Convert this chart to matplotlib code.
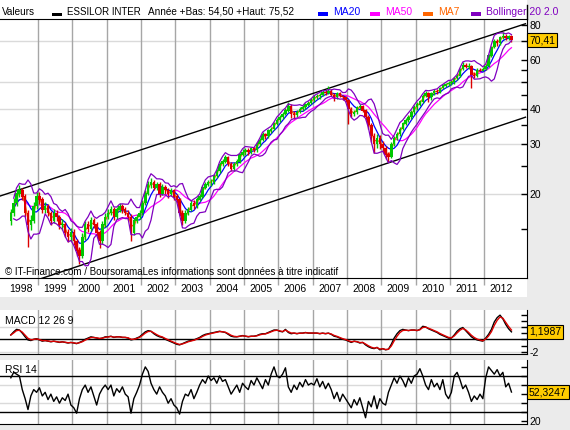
import numpy as np
import pandas as pd
import matplotlib
matplotlib.use('Agg')
import matplotlib.pyplot as plt
from matplotlib.patches import Rectangle
from matplotlib.lines import Line2D
from matplotlib.ticker import FixedLocator, FixedFormatter, NullFormatter

plt.rcParams['font.family'] = ['Liberation Sans', 'DejaVu Sans']

W, H = 570.0, 430.0

# ESSILOR INTER, one bar per month, March 1998 .. October 2012
start_year, start_month = 1998, 3
open_first = 16.0
close = [
    17.0, 18.5, 20.0, 20.5, 19.5, 17.0, 15.5, 16.0, 18.0, 19.5,
    19.0, 17.5, 18.0, 17.0, 16.0, 17.0, 16.5, 15.5, 15.5, 14.5, 14.0, 14.5,
    13.5, 12.5, 12.0, 14.0, 15.5, 15.0, 16.0, 15.5, 14.5, 13.5, 15.5, 16.5,
    17.0, 17.5, 16.5, 17.5, 18.0, 17.5, 17.0, 16.5, 14.5, 16.0, 16.5, 17.0,
    18.5, 20.0, 21.5, 22.0, 21.0, 21.5, 20.0, 21.0, 20.5, 20.0, 20.5, 19.5,
    19.0, 17.0, 16.0, 17.0, 17.5, 18.5, 18.0, 19.0, 19.5, 21.0, 21.5, 22.0,
    22.0, 23.0, 24.0, 25.5, 26.0, 27.0, 25.5, 24.5, 25.5, 26.0, 27.5, 28.0,
    28.5, 28.0, 29.0, 28.5, 30.0, 31.0, 32.5, 32.0, 33.5, 34.0, 35.5, 36.5,
    37.5, 38.5, 39.5, 41.0, 38.5, 38.0, 39.0, 40.0, 40.5, 41.5, 42.0, 43.0,
    44.0, 44.5, 45.0, 46.0, 45.5, 46.5, 45.0, 44.0, 45.5, 44.5, 44.0, 43.0,
    40.0, 38.5, 39.0, 40.5, 41.0, 39.5, 37.5, 35.0, 32.0, 30.0, 31.5, 30.0,
    29.0, 27.5, 27.0, 30.0, 31.5, 32.5, 34.0, 35.5, 36.5, 37.5, 39.0, 40.5,
    41.5, 42.5, 44.5, 45.5, 44.0, 45.5, 46.5, 46.0, 47.5, 48.5, 49.0, 49.5,
    50.0, 51.5, 52.5, 55.5, 57.5, 56.5, 57.0, 53.0, 52.5, 55.0, 54.8, 55.5,
    57.0, 62.0, 66.5, 70.0, 68.5, 72.0, 73.0, 71.5, 72.5, 70.41,
]
high = [
    17.6, 19.2, 20.8, 21.5, 21.0, 19.9, 17.5, 16.8, 18.6, 20.2,
    20.3, 19.4, 18.7, 18.3, 17.3, 17.6, 17.4, 16.8, 16.2, 15.8, 14.9, 15.1,
    14.9, 13.8, 12.9, 14.5, 16.0, 16.0, 16.5, 16.3, 15.8, 14.8, 15.9, 17.0,
    17.6, 18.1, 17.9, 17.9, 18.5, 18.3, 17.9, 17.4, 16.9, 16.4, 16.9, 17.5,
    18.9, 20.6, 22.2, 22.7, 22.4, 22.0, 21.9, 21.6, 21.4, 20.9, 21.0, 20.8,
    19.9, 19.3, 17.4, 17.4, 17.9, 18.9, 18.9, 19.4, 19.9, 21.4, 21.9, 22.4,
    22.6, 23.5, 24.5, 26.0, 26.6, 27.5, 27.3, 25.9, 25.9, 26.5, 27.9, 28.9,
    29.1, 29.0, 29.4, 29.4, 30.5, 31.5, 33.0, 32.9, 34.0, 34.6, 36.0, 37.2,
    38.2, 39.1, 40.3, 42.4, 41.6, 39.2, 39.6, 40.6, 41.2, 42.1, 42.7, 43.8,
    44.7, 45.3, 45.6, 46.6, 46.8, 48.5, 47.0, 45.6, 46.0, 46.0, 45.0, 44.5,
    43.4, 40.8, 39.6, 41.0, 41.8, 41.5, 40.0, 38.2, 35.6, 32.8, 32.5, 32.2,
    30.8, 29.5, 28.2, 30.6, 32.1, 33.0, 34.6, 36.1, 37.1, 38.1, 39.6, 41.2,
    42.2, 43.2, 45.1, 46.2, 46.0, 46.0, 47.1, 47.0, 48.1, 49.1, 49.7, 50.3,
    50.9, 52.2, 53.2, 56.2, 58.6, 58.4, 58.2, 57.5, 54.2, 55.8, 56.0, 56.4,
    57.8, 62.8, 67.2, 71.0, 71.2, 73.0, 75.52, 74.0, 73.6, 73.2,
]
low = [
    15.4, 16.6, 18.1, 19.4, 19.0, 16.5, 12.9, 14.8, 15.7, 17.6,
    18.3, 17.0, 17.1, 16.6, 15.5, 15.7, 16.0, 15.0, 14.8, 14.0, 13.4, 13.6,
    13.1, 12.0, 11.2, 11.8, 13.7, 14.6, 14.7, 15.1, 14.1, 12.8, 13.2, 15.2,
    16.2, 16.7, 16.1, 16.2, 17.2, 17.1, 16.7, 16.1, 13.6, 14.2, 15.7, 16.2,
    16.8, 18.2, 19.7, 21.0, 20.6, 20.6, 19.4, 19.7, 20.0, 19.3, 19.6, 19.0,
    18.5, 16.6, 15.4, 15.7, 16.7, 17.3, 17.6, 17.7, 18.8, 19.3, 20.7, 21.2,
    21.3, 21.7, 22.7, 23.7, 25.1, 25.7, 25.1, 24.0, 24.1, 25.1, 25.7, 27.1,
    27.4, 27.5, 27.6, 28.0, 28.1, 29.6, 30.7, 31.3, 31.6, 32.8, 33.6, 35.1,
    36.1, 37.0, 38.0, 39.0, 37.2, 36.8, 37.5, 38.6, 39.5, 40.0, 41.0, 41.6,
    42.5, 43.4, 43.6, 44.6, 45.0, 45.2, 44.4, 42.6, 43.5, 44.0, 43.2, 42.3,
    35.5, 37.6, 37.8, 38.5, 40.0, 39.0, 36.6, 34.0, 30.5, 27.8, 29.0, 28.8,
    28.2, 26.6, 26.0, 26.8, 29.5, 30.9, 32.0, 33.6, 35.0, 35.9, 37.0, 38.5,
    39.8, 40.9, 42.0, 44.0, 42.5, 43.2, 45.0, 45.2, 45.6, 47.0, 47.9, 48.3,
    48.6, 49.3, 50.6, 52.0, 55.0, 55.8, 55.6, 47.6, 51.5, 52.0, 54.5, 54.5,
    55.0, 56.5, 61.4, 65.8, 67.0, 67.8, 71.0, 70.2, 70.6, 69.5,
]

# MACD 12 26 9 line and RSI 14, one reading per month
macd = [
    0.7, 1.2, 1.6, 1.5, 1.0, 0.4, -0.1, -0.2, 0.0, 0.1,
    -0.1, -0.3, -0.2, -0.3, -0.4, -0.3, -0.4, -0.5, -0.4, -0.5, -0.6, -0.5,
    -0.6, -0.7, -0.5, -0.3, 0.0, 0.2, 0.4, 0.3, 0.2, 0.1, 0.2, 0.4,
    0.4, 0.5, 0.3, 0.4, 0.4, 0.3, 0.3, 0.2, -0.1, 0.0, 0.2, 0.4,
    0.8, 1.2, 1.4, 1.3, 0.9, 0.6, 0.4, 0.3, 0.0, -0.2, -0.4, -0.6,
    -0.8, -0.9, -0.7, -0.5, -0.3, -0.2, -0.1, 0.1, 0.3, 0.6, 0.8, 0.9,
    1.0, 1.1, 1.2, 1.3, 1.2, 1.1, 0.8, 0.5, 0.4, 0.4, 0.5, 0.6,
    0.5, 0.4, 0.5, 0.5, 0.6, 0.8, 0.9, 0.9, 1.1, 1.3, 1.5, 1.5,
    1.3, 1.2, 1.6, 1.1, 0.9, 1.0, 0.9, 1.0, 1.0, 1.1, 1.0, 1.0,
    1.0, 1.0, 0.9, 1.0, 0.9, 1.0, 0.8, 0.5, 0.4, 0.2, 0.0, -0.1,
    -0.3, -0.5, -0.3, -0.4, -0.6, -0.5, -0.9, -1.2, -1.4, -1.5, -1.3, -1.7,
    -1.5, -1.7, -1.6, -0.8, 0.2, 0.9, 1.4, 1.6, 1.5, 1.4, 1.5, 1.5,
    1.4, 1.6, 2.1, 2.0, 1.7, 1.5, 1.3, 1.1, 0.8, 0.6, 0.4, 0.2,
    0.2, 0.7, 1.3, 1.7, 1.9, 1.4, 0.9, 0.4, 0.1, -0.1, -0.2, -0.3,
    0.2, 0.8, 1.6, 2.8, 3.5, 3.9, 3.3, 2.4, 1.7, 1.1987,
]
rsi = [
    68, 74, 72, 70, 55, 45, 33, 48, 55, 52,
    57, 48, 52, 44, 50, 42, 47, 40, 46, 43, 50, 38,
    35, 29, 45, 55, 60, 52, 58, 48, 38, 50, 56, 60,
    55, 60, 48, 56, 52, 58, 50, 47, 29, 45, 52, 60,
    72, 80, 75, 62, 55, 50, 58, 52, 48, 40, 45, 38,
    35, 28, 42, 50, 48, 55, 45, 52, 60, 66, 62, 70,
    65, 68, 62, 70, 64, 66, 58, 50, 55, 60, 52, 62,
    58, 55, 65, 60, 68, 62, 56, 66, 60, 72, 80, 70,
    68, 72, 79, 58, 52, 60, 55, 63, 58, 66, 60, 62,
    60, 67, 58, 64, 56, 62, 55, 45, 52, 42, 50, 45,
    40, 35, 44, 38, 46, 35, 24, 42, 36, 48, 34, 45,
    40, 38, 52, 60, 68, 62, 70, 65, 58, 68, 62, 70,
    72, 78, 70, 60, 55, 66, 58, 62, 55, 66, 50, 45,
    52, 70, 74, 66, 56, 60, 52, 42, 48, 44, 50, 45,
    68, 80, 76, 72, 77, 70, 74, 58, 62, 52.3247,
]

# trend channel (year, price)
channel_x = [1997.9, 2013.2]
channel_top = [19.6, 80.5]
channel_bottom = [8.9, 37.4]

years = list(range(1998, 2013))
price_ticks = [20, 30, 40, 60, 80]
price_minor = [15, 25, 35, 45, 50, 55, 70]
price_grid = [20, 30, 40, 50, 70]

# indicator settings are in weeks, the bars here are months
ma_weeks = [50, 20, 7]
ma_colors = ['#ff00ff', '#0000ff', '#ff6600']
boll_weeks, boll_k = 20, 2.0
macd_signal_weeks = 9

GREEN, RED = '#00c800', '#dd0000'
PURPLE = '#8000c0'
VGRID, HGRID = '#a6a6a6', '#dadada'
XMIN, XMAX = 1997.893, 2013.23


def box(x0, y0, x1, y1):
    # pixel box of the picture -> figure fraction rect
    return [x0 / W, 1 - y1 / H, (x1 - x0) / W, (y1 - y0) / H]


def months(weeks):
    return max(1, int(round(weeks * 12 / 52)))


c = np.array(close)
t = start_year + (start_month - 1 + np.arange(len(c)) + 0.5) / 12
o = np.r_[open_first, c[:-1]]
s = pd.Series(c)

fig = plt.figure(figsize=(W / 100, H / 100), dpi=100, facecolor='#ebebeb')
fig.add_artist(Rectangle((0, 1 - 19 / H), 527 / W, 19 / H, transform=fig.transFigure,
                         fc='white', ec='none', zorder=-5))
fig.add_artist(Rectangle((0, 1 - 297 / H), 527 / W, 19 / H, transform=fig.transFigure,
                         fc='white', ec='none', zorder=-5))

# header
ty = 1 - 12 / H
fig.text(2 / W, ty, 'Valeurs', fontsize=7.2, va='center')
fig.add_artist(Rectangle((52 / W, 1 - 16 / H), 10 / W, 3.3 / H, transform=fig.transFigure,
                         fc='black', ec='none'))
fig.text(67 / W, ty, 'ESSILOR INTER', fontsize=7, va='center')
fig.text(148 / W, ty, 'Année +Bas: 54,50 +Haut: 75,52', fontsize=7.2, va='center')
legend = [(318, 'MA20', '#0000ff'), (370, 'MA50', '#ff00ff'),
          (423, 'MA7', '#ff6600'), (471, 'Bollinger 20 2.0', PURPLE)]
for x, lab, col in legend:
    fig.add_artist(Rectangle((x / W, 1 - 15.7 / H), 10 / W, 3.5 / H,
                             transform=fig.transFigure, fc=col, ec='none'))
    fig.text((x + 15) / W, ty, lab, fontsize=7.5, va='center', color=col)

# ---- price panel
ax = fig.add_axes(box(0, 19, 526.5, 278))
ax.set_yscale('log')
ax.set_xlim(XMIN, XMAX)
ax.set_ylim(10.0, 83.7)
for g in price_grid:
    ax.axhline(g, color=HGRID, lw=1, zorder=0)
for y in years[1:]:
    ax.axvline(y, color=VGRID, lw=1, zorder=0.5)

ax.plot(channel_x, channel_top, color='black', lw=1, zorder=1.5)
ax.plot(channel_x, channel_bottom, color='black', lw=1, zorder=1.5)

# moving averages under the candles, Bollinger bands on top
for w, col in zip(ma_weeks, ma_colors):
    ax.plot(t, s.rolling(months(w), min_periods=1).mean(), color=col, lw=0.9, zorder=2)

cols = np.where(c >= o, GREEN, RED)
ax.vlines(t, low, high, colors=cols, lw=1, zorder=3)
ax.bar(t, np.abs(c - o) + 0.05, bottom=np.minimum(o, c), width=0.072,
       color=cols, lw=0, zorder=3)

mid = s.rolling(months(boll_weeks), min_periods=2).mean()
sd = s.rolling(months(boll_weeks), min_periods=2).std(ddof=0)
ax.plot(t, mid + boll_k * sd, color=PURPLE, lw=0.9, zorder=4)
ax.plot(t, mid - boll_k * sd, color=PURPLE, lw=0.9, zorder=4)

ax.yaxis.set_major_locator(FixedLocator(price_ticks))
ax.yaxis.set_major_formatter(FixedFormatter([str(v) for v in price_ticks]))
ax.yaxis.set_minor_locator(FixedLocator(price_minor))
ax.yaxis.set_minor_formatter(NullFormatter())
ax.tick_params(axis='y', which='both', left=False, right=True, labelleft=False,
               labelright=True, direction='in', length=4.5, width=1,
               labelsize=7.5, pad=2)
ax.xaxis.set_major_locator(FixedLocator(years[1:]))
ax.xaxis.set_major_formatter(NullFormatter())
ax.xaxis.set_minor_locator(FixedLocator([y + 0.5 for y in years]))
ax.xaxis.set_minor_formatter(FixedFormatter([str(y) for y in years]))
ax.tick_params(axis='x', which='major', direction='out', length=5, width=1,
               color=VGRID, top=False)
ax.tick_params(axis='x', which='minor', length=0, labelsize=7.5, pad=4, top=False)
ax.spines['left'].set_visible(False)

ax.annotate(f'{close[-1]:.2f}'.replace('.', ','), xy=(1, close[-1]),
            xycoords=('axes fraction', 'data'), xytext=(1.8, 0),
            textcoords='offset points', ha='left', va='center', fontsize=7.5,
            bbox=dict(boxstyle='square,pad=0.2', fc='#ffcc00', ec='black', lw=0.8),
            annotation_clip=False, zorder=10)
fig.text(5 / W, 1 - 272 / H, '© IT-Finance.com / BoursoramaLes informations sont données à titre indicatif',
         fontsize=7, va='center')
fig.add_artist(Line2D([526.5 / W] * 2, [1 - 5 / H, 1 - 19 / H], color='black', lw=1))


def lower_panel(rect, ylim, ticks, labels):
    a = fig.add_axes(rect)
    a.set_xlim(XMIN, XMAX)
    a.set_ylim(*ylim)
    for y in years[1:]:
        a.axvline(y, color=VGRID, lw=1, zorder=0.5)
    a.yaxis.set_major_locator(FixedLocator(ticks))
    a.yaxis.set_major_formatter(FixedFormatter(labels))
    a.tick_params(axis='y', left=False, right=True, labelleft=False, labelright=True,
                  direction='in', length=4.5, width=1, labelsize=7.5, pad=2)
    a.tick_params(axis='x', bottom=False, labelbottom=False)
    a.spines['left'].set_visible(False)
    a.spines['top'].set_visible(False)
    return a


# ---- MACD panel
ax2 = lower_panel(box(0, 310, 526.5, 354.3), (-2.42, 4.73), list(range(-2, 5)),
                  ['-2', '', '', '', '', '', ''])
for g in [-2, 2]:
    ax2.axhline(g, color=HGRID, lw=1, zorder=0)
ax2.axhline(0, color='black', lw=1, zorder=1)
m = pd.Series(macd)
sig = m.ewm(span=macd_signal_weeks * 12 / 52, adjust=False).mean()
ax2.plot(t, m, color='black', lw=1, zorder=3)
ax2.plot(t, sig, color=RED, lw=1, zorder=3)
ax2.text(5 / 526.5, 0.75, 'MACD 12 26 9', transform=ax2.transAxes, fontsize=7.5,
         va='center', zorder=1)
ax2.annotate(f'{macd[-1]:.4f}'.replace('.', ','), xy=(1, macd[-1]),
             xycoords=('axes fraction', 'data'), xytext=(1.8, 0),
             textcoords='offset points', ha='left', va='center', fontsize=7.5,
             bbox=dict(boxstyle='square,pad=0.2', fc='#ffcc00', ec='black', lw=0.8),
             annotation_clip=False, zorder=10)

# ---- RSI panel (the 50 label sits under the value box, so it is left out)
ax3 = lower_panel(box(0, 360, 526.5, 424), (17.1, 87.6), list(range(20, 90, 10)),
                  ['20', '', '', '', '', '', ''])
for g in [40, 60]:
    ax3.axhline(g, color=HGRID, lw=1, zorder=0)
for g in [30, 70]:
    ax3.axhline(g, color='black', lw=1, zorder=1)
ax3.plot(t, rsi, color='black', lw=1, zorder=3)
ax3.text(5 / 526.5, 0.85, 'RSI 14', transform=ax3.transAxes, fontsize=7.5,
         va='center', zorder=1)
ax3.annotate(f'{rsi[-1]:.4f}'.replace('.', ','), xy=(1, rsi[-1]),
             xycoords=('axes fraction', 'data'), xytext=(1.8, 0),
             textcoords='offset points', ha='left', va='center', fontsize=7.5,
             bbox=dict(boxstyle='square,pad=0.2', fc='#ffcc00', ec='black', lw=0.8),
             annotation_clip=False, zorder=10)

fig.savefig('out.png', dpi=100, facecolor=fig.get_facecolor())
